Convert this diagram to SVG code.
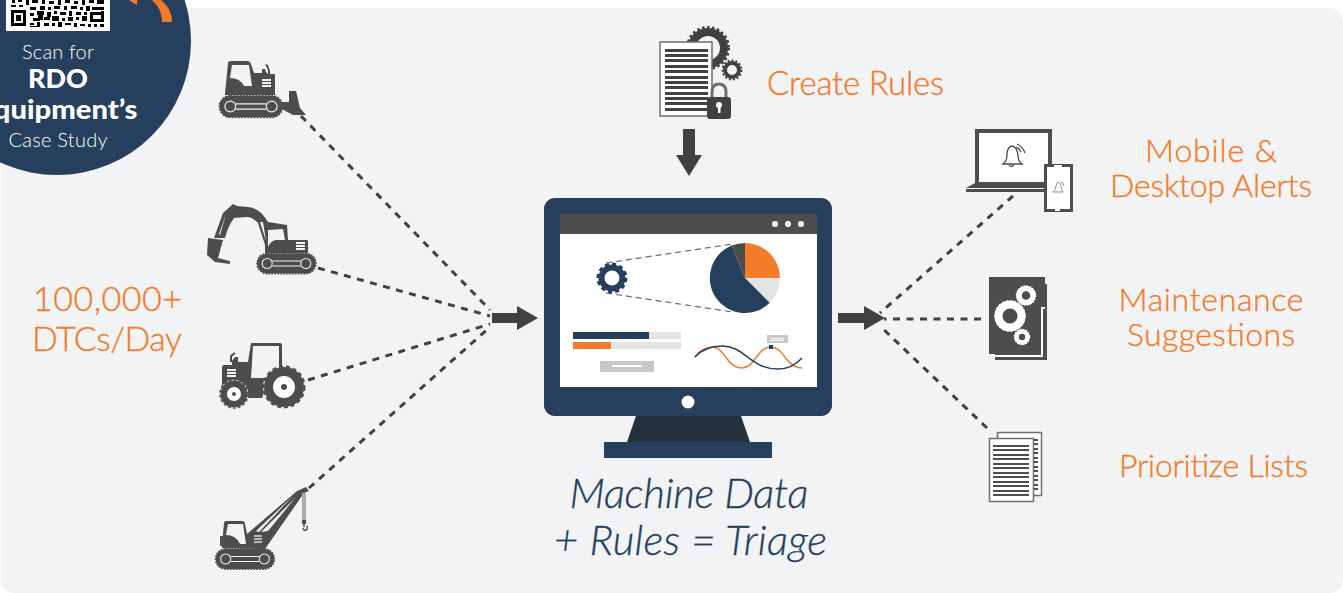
<svg xmlns="http://www.w3.org/2000/svg" width="1343" height="593" viewBox="0 0 1343 593">
<style>
.o{font-family:"Lato","Open Sans",sans-serif;font-weight:300;fill:#f47b27;stroke:#f47b27;stroke-width:.35;text-anchor:middle}
.w{font-family:"Lato","Open Sans",sans-serif;fill:#fff;text-anchor:middle}
.it{font-family:"Lato","Open Sans",sans-serif;font-weight:300;font-style:italic;font-size:42px;fill:#263f5c;stroke:#263f5c;stroke-width:.3;text-anchor:middle}
.d{fill:#4c4d4c}
.dash{fill:none;stroke:#414042;stroke-width:3;stroke-dasharray:7 6.5}
.trg{fill:none;stroke:#f1f3f5;stroke-width:1.3}
</style>
<defs>
<g id="track">
<rect x="-35" y="-12" width="70" height="24" rx="12" fill="#4c4d4c" stroke="#4c4d4c" stroke-width="2" stroke-dasharray="2 1.5"/>
<circle cx="-23" cy="0" r="6" class="trg"/><circle cx="23" cy="0" r="6" class="trg"/>
<path d="M-17-3H17M-17 3H17" class="trg"/>
</g>
</defs>
<rect x="0" y="0" width="1343" height="593" fill="#fff"/>
<rect x="1" y="8" width="1342" height="585" rx="14" fill="#f1f3f5"/>

<g id="badge">
<circle cx="57" cy="41" r="134" fill="#263f5c"/>
<rect x="6" y="0" width="104" height="31" fill="#fff"/>
<g fill="#000">
<path fill-rule="evenodd" d="M11 10h15v16H11zM14 13v10h9V13z"/><rect x="16" y="15" width="5" height="6"/>
<path d="M12 0h3v3h-3zM18 0h4v2h-4zM26 0h3v5h-3zM11 5h5v2h-5zM19 5h4v2h-4zM32 0h6v3h-6zM42 0h3v4h-3zM49 1h5v3h-5zM58 0h3v5h-3zM65 0h5v3h-5zM74 1h4v3h-4zM82 0h3v5h-3zM89 0h5v3h-5zM97 0h7v4h-7z"/>
<path d="M30 7h6v3h-6zM40 6h5v4h-5zM48 7h3v3h-3zM54 6h6v3h-6zM64 6h3v4h-3zM71 6h6v3h-6zM80 7h3v3h-3zM86 6h4v5h-4zM92 7h12v3H92z"/>
<path d="M30 13h4v3h-4zM37 11h7v4h-7zM47 12h4v5h-4zM54 11h3v3h-3zM60 12h6v3h-6zM69 11h3v5h-3zM76 12h5v3h-5zM84 12h3v3h-3zM90 12h3v10h-3zM101 11h3v11h-3zM93 12h8v3h-8zM93 19h8v3h-8z"/>
<path d="M33 18h7v3h-7zM38 14h5v6h-5zM44 17h6v3h-6zM52 16h7v5h-7zM62 18h3v3h-3zM68 17h5v4h-5zM76 17h3v3h-3zM82 16h5v5h-5z"/>
<path d="M30 23h4v2h-4zM37 22h3v5h-3zM44 23h5v3h-5zM52 23h3v3h-3zM58 22h4v5h-4zM65 23h6v2h-6zM74 23h3v4h-3zM80 24h5v2h-5zM88 24h3v3h-3zM94 24h3v3h-3zM100 24h4v3h-4zM30 26h8v1h-8z"/>
</g>
<path d="M129 0h8v5q-4-2-8-5z" fill="#f47b27"/>
<path d="M152 0h9q11 9 11 22h-10q0-13-10-22z" fill="#f47b27"/>
<text class="w" x="58" y="59" font-size="20" font-weight="300" textLength="72">Scan for</text>
<text class="w" x="58" y="88" font-size="27" font-weight="900">RDO</text>
<text class="w" x="57.500" y="119" font-size="27" font-weight="900" textLength="160" lengthAdjust="spacingAndGlyphs">Equipment’s</text>
<text class="w" x="58" y="147" font-size="20" font-weight="300" textLength="99">Case Study</text>
</g>

<g id="connectors">
<path class="dash" d="M301 116L490 310"/>
<path class="dash" d="M318 268L490 316"/>
<path class="dash" d="M308 380L490 324"/>
<path class="dash" d="M309 488L490 327"/>
<path class="dash" d="M1013 196L880 313"/>
<path class="dash" d="M981 319H884"/>
<path class="dash" d="M987 428L880 326"/>
<path d="M492 313H517V306L538 318L517 330V323H492z" fill="#414042"/>
<path d="M838 313H864V306L885 318L864 330V323H838z" fill="#414042"/>
<path d="M683 129H695V155H702L689 176L676 155H683z" fill="#414042"/>
</g>

<g id="bulldozer">
<use href="#track" transform="translate(251,106.500) scale(0.9)"/>
<path class="d" d="M225 94L228 63Q228 61 231 61H247Q250 61 251 64L254 73H262L262 69H265L266 72L268 74V70L265 64L268 65L270 71V74H275V95H225z"/>
<path d="M232 65H249L252 86H244Q240 78 230 78z" fill="#f1f3f5"/>
<path d="M262 79h9v2h-9zM262 82h9v2h-9zM262 85h9v2h-9z" fill="#f1f3f5"/>
<path class="d" d="M289 91H296L300 108L306 115H293L280 108V102L289 102z"/>
</g>

<g id="excavator">
<use href="#track" transform="translate(286.500,263.500) scale(0.84)"/>
<path class="d" d="M233 204L237 206L248 207Q260 208 268 222L287 225L288 240H307Q308 240 308 242V253H265V245L258 223Q252 217 247 217L234 218Q228 226 225 238H214L223 213z"/>
<path d="M268 230L283 229L285 240H275Q270 242 268 247z" fill="#f1f3f5"/>
<path d="M296 242h9v2h-9zM296 245h9v2h-9zM296 248h9v2h-9z" fill="#f1f3f5"/>
<path class="d" d="M208 238L223 240L218 258L230 261V264L215 262L207 255z"/>
<path d="M260 222L266 241L263 222zM226 214L219 234L220 235z" fill="#f1f3f5"/>
</g>

<g id="tractor">
<path class="d" d="M251 343H280Q282 343 282 345V367L293 371V375H270L262 398H250L222 395V368Q222 365 224 365H232V361L235 357H238V362H248z"/>
<path d="M253 346H279V367Q272 369 270 378H251z" fill="#f1f3f5"/>
<path d="M227 369h9v2h-9zM227 372h9v2h-9zM227 375h9v2h-9z" fill="#f1f3f5"/>
<path d="M231 362V356L235 353" fill="none" stroke="#4c4d4c" stroke-width="2"/>
<circle cx="284" cy="387" r="20.500" fill="#4c4d4c" stroke="#f1f3f5" stroke-width="1"/>
<circle cx="284" cy="387" r="20.500" fill="none" stroke="#4c4d4c" stroke-width="2" stroke-dasharray="4 3"/>
<circle cx="284" cy="387" r="11" fill="#fff"/><circle cx="284" cy="387" r="3" fill="#4c4d4c"/>
<circle cx="234" cy="394" r="14" fill="#4c4d4c" stroke="#f1f3f5" stroke-width="1"/>
<circle cx="234" cy="394" r="14" fill="none" stroke="#4c4d4c" stroke-width="1.500" stroke-dasharray="3 2"/>
<circle cx="234" cy="394" r="7" fill="#fff"/><circle cx="234" cy="394" r="2" fill="#4c4d4c"/>
</g>

<g id="crane">
<use href="#track" transform="translate(245,559) scale(0.84)"/>
<path class="d" d="M222 545L224 523Q224 521 226 521H242Q245 521 245 524L247 534L297 491L306 487L309 491L304 493L265 549L222 548z"/>
<path d="M228 524H243L246 544H240Q236 535 226 535z" fill="#f1f3f5"/>
<path d="M254 535h8v2h-8zM254 538h8v2h-8zM254 541h8v2h-8z" fill="#b9bab9"/>
<path d="M256 531L293 496L259 532zM261 532L296 497L268 531z" fill="#f1f3f5"/>
<path d="M220 536h3v10h-3z" fill="#4c4d4c"/>
<rect x="302" y="493" width="4" height="28" fill="#a9aaaa"/>
<rect x="302" y="520" width="4" height="4" fill="#4c4d4c"/>
<path d="M304 524V527M307 526Q308 531 304 530L303 528" fill="none" stroke="#4c4d4c" stroke-width="1.500"/>
</g>

<g id="rules-icon">
<circle cx="708" cy="48" r="16" fill="none" stroke="#414042" stroke-width="8"/>
<circle cx="708" cy="48" r="20.500" fill="none" stroke="#414042" stroke-width="3" stroke-dasharray="2.500 2.500"/>
<circle cx="732" cy="70" r="7" fill="none" stroke="#414042" stroke-width="4"/>
<circle cx="732" cy="70" r="9.500" fill="none" stroke="#414042" stroke-width="2" stroke-dasharray="2 2"/>
<rect x="660" y="42" width="52" height="74" fill="#fff" stroke="#6d6e70" stroke-width="1.500"/>
<path fill="#414042" d="M665 49h43v3h-43zM665 54h43v3h-43zM665 59h43v3h-43zM665 65h43v3h-43zM665 70h43v3h-43zM665 76h43v3h-43zM665 81h43v3h-43zM665 86h43v3h-43zM665 92h43v3h-43zM665 97h43v3h-43zM665 102h43v3h-43zM665 108h43v3h-43z"/>
<path d="M712 100V92Q712 84 719 84Q726 84 726 92V100" fill="none" stroke="#6d6e70" stroke-width="3"/>
<rect x="707" y="97" width="24" height="22" rx="3" fill="#414042"/>
<circle cx="719" cy="105" r="3" fill="#fff"/><rect x="718" y="105" width="2.500" height="8" fill="#fff"/>
</g>
<text class="o" x="855.500" y="95" font-size="33" textLength="177">Create Rules</text>

<g id="monitor">
<rect x="544" y="198" width="288" height="218" rx="11" fill="#263f5c"/>
<path d="M636 416H741L750 442H627z" fill="#24303c"/>
<rect x="604" y="442" width="168" height="16" fill="#263f5c"/>
<circle cx="688" cy="402" r="6.500" fill="#fff"/>
<rect x="560" y="214" width="257" height="173" fill="#fff"/>
<rect x="560" y="214" width="257" height="20" fill="#4c4d4c"/>
<circle cx="775" cy="224" r="3" fill="#fff"/><circle cx="788" cy="224" r="3" fill="#fff"/><circle cx="801" cy="224" r="3" fill="#fff"/>
<path d="M606 263L733 244M606 293L733 312" stroke="#5a6e86" stroke-width="1.200" stroke-dasharray="6 4" fill="none"/>
<circle cx="612" cy="278" r="10.500" fill="none" stroke="#263f5c" stroke-width="6"/>
<circle cx="612" cy="278" r="14" fill="none" stroke="#263f5c" stroke-width="3" stroke-dasharray="4 3.300"/>
<path d="M745 243V278H780A35 35 0 0 0 745 243z" fill="#f47b27"/>
<path d="M745 278H780A35 35 0 0 1 769.700 302.700z" fill="#e4e4e4"/>
<path d="M745 278L769.700 302.700A35 35 0 1 1 731.800 245.600z" fill="#263f5c"/>
<path d="M745 278L731.800 245.600Q738 243 745 243z" fill="#4c4d4c"/>
<rect x="573" y="332" width="108" height="7" fill="#e4e4e4"/><rect x="573" y="332" width="76" height="7" fill="#263f5c"/>
<rect x="573" y="342" width="108" height="7" fill="#e4e4e4"/><rect x="573" y="342" width="38" height="7" fill="#f47b27"/>
<rect x="600" y="361" width="54" height="11" fill="#c9c8c6"/><rect x="612" y="365" width="30" height="2" fill="#fff"/>
<path d="M695 357Q702 347 713 347C725 348 727 368 742 368C755 368 757 347 771 347C784 347 786 368 802 368" fill="none" stroke="#f47b27" stroke-width="1.500"/>
<path d="M695 357Q705 346 722 346C745 346 750 369 778 369Q792 369 802 358" fill="none" stroke="#263f5c" stroke-width="1.500"/>
<rect x="767" y="335" width="21" height="8" fill="#c9c8c6"/><path d="M770 338h14v1h-14zM770 340h14v1h-14z" fill="#fff"/>
<rect x="769" y="345" width="4" height="4" fill="#263f5c"/>
</g>
<text class="it" x="689" y="508" textLength="239">Machine Data</text>
<text class="it" x="690.500" y="555" textLength="273">+ Rules = Triage</text>

<text class="o" x="107.500" y="311" font-size="34" textLength="149">100,000+</text>
<text class="o" x="107" y="351" font-size="34" textLength="150">DTCs/Day</text>

<g id="alerts-icon">
<rect x="977" y="131" width="73" height="53" fill="#fff" stroke="#4c4d4c" stroke-width="4"/>
<path d="M975 183H1048V188H966z" fill="#4c4d4c"/>
<rect x="966" y="189" width="82" height="3" fill="#4c4d4c"/>
<g fill="none" stroke="#4c4d4c" stroke-width="1.300">
<path d="M1003 164Q1007 161 1007 155Q1007 147 1012 146Q1017 147 1018 155Q1018 161 1022 164z"/>
<path d="M1009 165Q1011 168 1014 165M1016 147Q1019 148 1021 152M1017 144Q1023 147 1025 153"/>
</g>
<rect x="1045.500" y="165.500" width="26" height="45" fill="#fff" stroke="#4c4d4c" stroke-width="3"/>
<rect x="1054" y="165" width="8" height="2" fill="#fff"/><rect x="1055" y="208" width="5" height="3" fill="#fff"/>
<path fill="none" stroke="#6d6e70" stroke-width="0.800" d="M1053 192Q1056 190 1056 186Q1057 182 1058 182Q1060 182 1061 186Q1061 190 1063 192zM1061 182Q1064 183 1064 186"/>
</g>
<text class="o" x="1211" y="162" font-size="32" textLength="132">Mobile &amp;</text>
<text class="o" x="1211" y="197" font-size="32" textLength="202">Desktop Alerts</text>

<g id="maintenance-icon">
<path d="M995 284H1047V360H995z" fill="#4c4d4c"/>
<path d="M989 277H1045V307H1041V354H989z" fill="#4c4d4c"/>
<path d="M1045 278V307H1041V355H995V357H1043V309H1045z" fill="#fff"/>
<g fill="none" stroke="#fff">
<circle cx="1010" cy="316" r="11.500" stroke-width="8"/>
<circle cx="1010" cy="316" r="14.500" stroke-width="2.500" stroke-dasharray="2 2"/>
<circle cx="1026" cy="295.500" r="7" stroke-width="5.500"/>
<circle cx="1026" cy="295.500" r="9.500" stroke-width="1.500" stroke-dasharray="1.500 1.500"/>
<circle cx="1022" cy="337" r="5.500" stroke-width="4.500"/>
<circle cx="1022" cy="337" r="7.500" stroke-width="1.500" stroke-dasharray="1.500 1.500"/>
</g>
</g>
<text class="o" x="1211" y="311" font-size="32" textLength="185">Maintenance</text>
<text class="o" x="1211" y="346" font-size="32" textLength="168">Suggestions</text>

<g id="lists-icon">
<rect x="997.500" y="432.500" width="44" height="63" fill="#fff" stroke="#6d6e70" stroke-width="1.500"/>
<path d="M1030 439h8v2h-8zM1030 443h8v2h-8zM1030 448h8v2h-8zM1030 452h8v2h-8zM1030 457h8v2h-8zM1030 461h8v2h-8zM1030 466h8v2h-8zM1030 470h8v2h-8zM1030 475h8v2h-8zM1030 479h8v2h-8zM1030 484h8v2h-8zM1030 488h8v2h-8z" fill="#4c4d4c"/>
<rect x="989.500" y="438.500" width="44" height="63" fill="#fff" stroke="#6d6e70" stroke-width="1.500"/>
<path d="M993 445h36v2h-36zM993 449h36v2h-36zM993 454h36v2h-36zM993 458h36v2h-36zM993 463h36v2h-36zM993 467h36v2h-36zM993 472h36v2h-36zM993 476h36v2h-36zM993 481h36v2h-36zM993 485h36v2h-36zM993 490h36v2h-36zM993 494h36v2h-36z" fill="#4c4d4c"/>
</g>
<text class="o" x="1213.500" y="477" font-size="32" textLength="189">Prioritize Lists</text>
</svg>
